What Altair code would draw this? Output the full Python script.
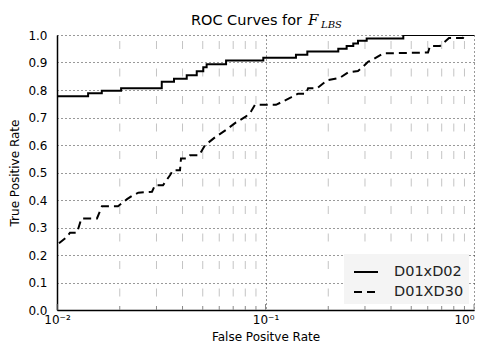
import altair as alt
import pandas as pd

series_names = ["D01xD02", "D01XD30"]

solid_fpr = [0.01, 0.0141, 0.0164, 0.0203, 0.0318, 0.0364, 0.0419, 0.0468, 0.0503, 0.0522,
             0.0647, 0.0976, 0.140, 0.1587, 0.2234, 0.245, 0.2636, 0.2777, 0.3057, 0.458, 1.0]
solid_tpr = [0.777, 0.788, 0.797, 0.806, 0.830, 0.841, 0.854, 0.868, 0.883, 0.894,
             0.907, 0.917, 0.928, 0.940, 0.950, 0.960, 0.969, 0.979, 0.987, 1.0, 1.0]

dashed_fpr = [0.01022, 0.01113, 0.01154, 0.01247, 0.0131, 0.01555, 0.01643, 0.01962, 0.02167,
              0.02282, 0.02454, 0.02855, 0.02951, 0.03224, 0.03483, 0.036, 0.0389, 0.03933,
              0.04202, 0.04344, 0.04799, 0.05127, 0.05726, 0.06466, 0.07219, 0.08063, 0.08522,
              0.08903, 0.1123, 0.1213, 0.1325, 0.1432, 0.1564, 0.16, 0.1766, 0.1972, 0.2277,
              0.2487, 0.2777, 0.2935, 0.3102, 0.3279, 0.3661, 0.6017, 0.6152, 0.6871, 0.7178,
              0.7586, 0.8855, 0.9053, 1.0]
dashed_tpr = [0.243, 0.265, 0.281, 0.281, 0.333, 0.333, 0.3775, 0.3775, 0.403,
              0.414, 0.4265, 0.430, 0.4537, 0.4537, 0.490, 0.508, 0.508, 0.5506,
              0.5506, 0.5626, 0.5626, 0.599, 0.628, 0.655, 0.682, 0.704, 0.722,
              0.746, 0.746, 0.7586, 0.773, 0.7866, 0.7866, 0.806, 0.806, 0.835, 0.8447,
              0.8639, 0.8693, 0.8846, 0.9027, 0.911, 0.933, 0.9365, 0.960, 0.960, 0.9728,
              0.989, 0.989, 1.0, 1.0]

title_main = "ROC Curves for"
title_sym = "F"
title_sub = "LBS"
x_title = "False Positve Rate"
y_title = "True Positive Rate"

x_minor = [0.02, 0.03, 0.04, 0.05, 0.06, 0.07, 0.08, 0.09,
           0.2, 0.3, 0.4, 0.5, 0.6, 0.7, 0.8, 0.9]
x_major = [0.01, 0.1, 1.0]
x_tick_labels = ["10⁻²", "10⁻¹", "10⁰"]
y_ticks = [0.0, 0.1, 0.2, 0.3, 0.4, 0.5, 0.6, 0.7, 0.8, 0.9, 1.0]

label_expr = " : ".join(f"datum.value == {v} ? '{t}'" for v, t in zip(x_major, x_tick_labels)) + " : ''"

solid_df = pd.DataFrame({"fpr": solid_fpr, "tpr": solid_tpr, "series": series_names[0]})
dashed_df = pd.DataFrame({"fpr": dashed_fpr, "tpr": dashed_tpr, "series": series_names[1]})
minor_df = pd.DataFrame({"v": x_minor})
major_df = pd.DataFrame({"v": x_major})

x_scale = alt.Scale(type="log", domain=[0.01, 1.0], nice=False)
y_scale = alt.Scale(domain=[0.0, 1.0], nice=False)

x_axis = alt.Axis(
    title=x_title, values=x_major, labelExpr=label_expr, labelFlush=False,
    labelOverlap=False, ticks=False, labelPadding=4, labelFontSize=12, labelColor="black",
    labelAlign={"condition": {"test": f"datum.value == {x_major[-1]}", "value": "right"},
                "value": "center"},
    titleFontSize=12, titleFontWeight="normal", titlePadding=6, titleColor="black",
    domainColor="black", domainWidth=1.5,
    gridColor="#333333", gridDash=[1, 3], gridWidth=1,
)
y_axis = alt.Axis(
    title=y_title, values=y_ticks, format=".1f", ticks=False, labelPadding=10,
    labelFontSize=12, labelColor="black", titleFontSize=12, titleFontWeight="normal",
    titlePadding=6, titleColor="black", domainColor="black", domainWidth=1.5,
    gridColor="#333333", gridDash=[1, 3], gridWidth=1,
)

dash_enc = alt.StrokeDash(
    "series:N",
    scale=alt.Scale(domain=series_names, range=[[1, 0], [8, 5]]),
    legend=alt.Legend(
        title=None, orient="none", legendX=287, legendY=219, fillColor="#f4f4f4",
        padding=5, rowPadding=-2, symbolType="stroke", symbolSize=576,
        symbolStrokeWidth=2, symbolStrokeColor="black", symbolOffset=4,
        labelFontSize=14.5, labelColor="#222222", labelOffset=15, labelFont="DejaVu Sans",
    ),
)

minor_grid = alt.Chart(minor_df).mark_rule(
    color="#c4c4c4", strokeWidth=1, strokeDash=[8, 19.5], strokeDashOffset=21.5
).encode(
    x=alt.X("v:Q", scale=x_scale, axis=x_axis),
    y=alt.value(0),
    y2=alt.value(275),
)

minor_ticks = alt.Chart(minor_df).mark_rule(color="#888888", strokeWidth=1).encode(
    x=alt.X("v:Q", scale=x_scale, axis=x_axis),
    y=alt.value(275),
    y2=alt.value(271),
)

major_ticks = alt.Chart(major_df).mark_rule(color="#888888", strokeWidth=1).encode(
    x=alt.X("v:Q", scale=x_scale, axis=x_axis),
    y=alt.value(275),
    y2=alt.value(269),
)

solid = alt.Chart(solid_df).mark_line(
    interpolate="step-after", color="black", strokeWidth=2, clip=True
).encode(
    x=alt.X("fpr:Q", scale=x_scale, axis=x_axis),
    y=alt.Y("tpr:Q", scale=y_scale, axis=y_axis),
    strokeDash=dash_enc,
)

dashed = alt.Chart(dashed_df).mark_line(
    interpolate="linear", color="black", strokeWidth=2, clip=True
).encode(
    x=alt.X("fpr:Q", scale=x_scale, axis=x_axis),
    y=alt.Y("tpr:Q", scale=y_scale, axis=y_axis),
    strokeDash=dash_enc,
)

t_main = alt.Chart(pd.DataFrame({"t": [title_main]})).mark_text(
    align="right", baseline="alphabetic", fontSize=14.5, font="DejaVu Sans", color="black"
).encode(x=alt.value(245), y=alt.value(-10), text="t:N")
t_sym = alt.Chart(pd.DataFrame({"t": [title_sym]})).mark_text(
    align="left", baseline="alphabetic", fontSize=15, font="DejaVu Serif",
    fontStyle="italic", color="black"
).encode(x=alt.value(251), y=alt.value(-10), text="t:N")
t_sub = alt.Chart(pd.DataFrame({"t": [title_sub]})).mark_text(
    align="left", baseline="alphabetic", fontSize=10, font="DejaVu Serif",
    fontStyle="italic", color="black"
).encode(x=alt.value(264), y=alt.value(-7), text="t:N")

chart = alt.layer(minor_grid, minor_ticks, major_ticks, solid, dashed, t_main, t_sym, t_sub).properties(
    width=417, height=275,
    padding={"left": 49, "top": 27, "right": 1, "bottom": 36},
    autosize=alt.AutoSizeParams(type="none"),
).configure(font="DejaVu Sans").configure_view(stroke=None)

chart.save("out.html", embed_options={"renderer": "svg", "actions": False})
